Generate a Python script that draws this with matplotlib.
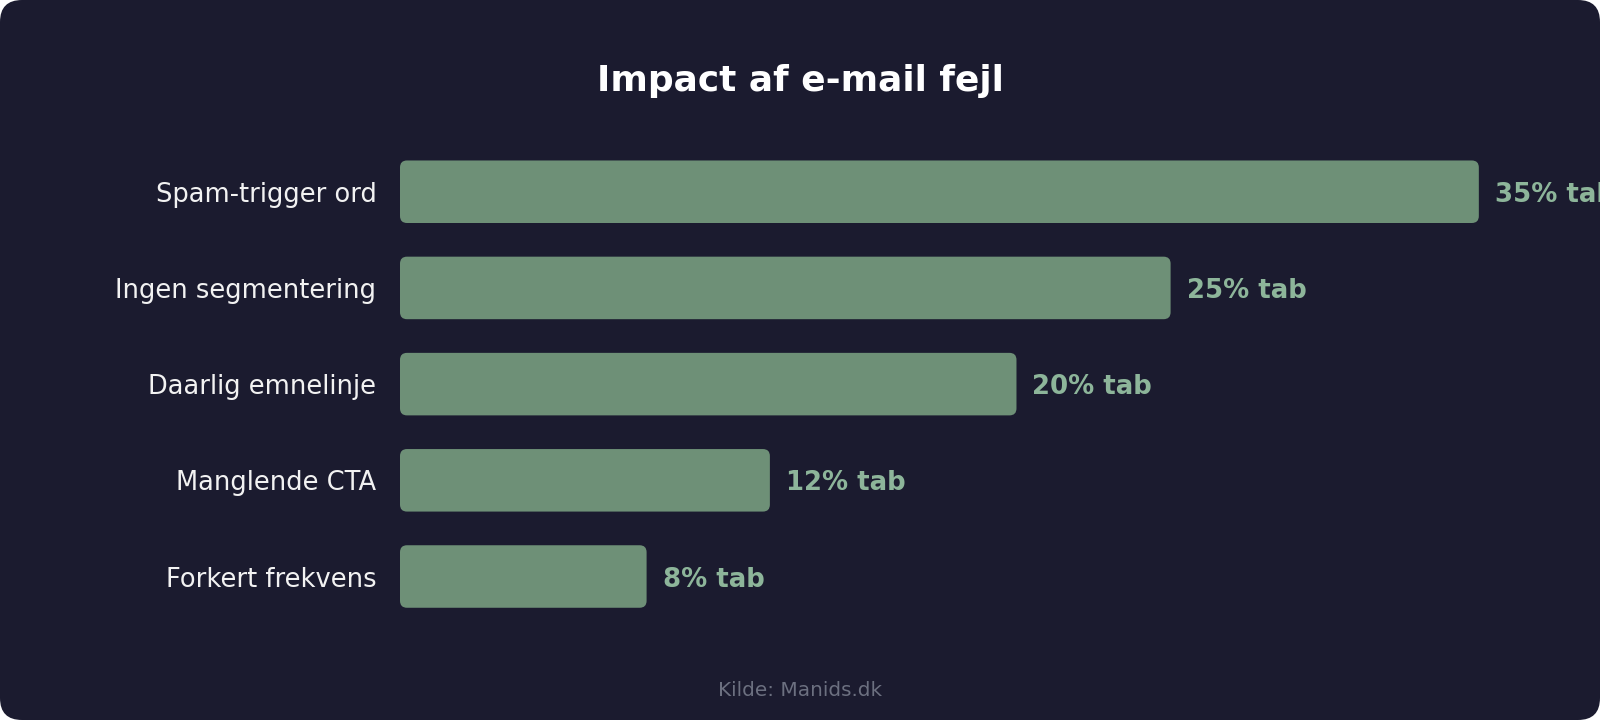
import matplotlib.pyplot as plt
from matplotlib.patches import FancyBboxPatch

# data
categories = ['Spam-trigger ord', 'Ingen segmentering', 'Daarlig emnelinje',
              'Manglende CTA', 'Forkert frekvens']
values = [35, 25, 20, 12, 8]
value_labels = ['35% tab', '25% tab', '20% tab', '12% tab', '8% tab']

bg = '#1b1b2f'
bar_color = '#6e9077'
label_color = '#8db59a'

fig = plt.figure(figsize=(16, 7.2), dpi=100)
fig.patch.set_facecolor('white')

# rounded background card
card = FancyBboxPatch((0, 0), 1, 1, boxstyle='round,pad=0,rounding_size=0.01375',
                      mutation_aspect=1600 / 720, transform=fig.transFigure,
                      facecolor=bg, edgecolor='none', zorder=-10)
fig.patches.append(card)

ax = fig.add_axes([0.25, 0.1325, 0.7706, 0.668])
ax.set_facecolor('none')

y = list(range(len(categories)))
bars = ax.barh(y, values, height=0.65, color=bar_color)

# swap plain bars for rounded ones
r = 0.227
aspect = 30.83 / 96.2
for b in bars:
    b.set_visible(False)
    p = FancyBboxPatch((b.get_x(), b.get_y()), b.get_width(), b.get_height(),
                       boxstyle=f'round,pad=0,rounding_size={r}',
                       mutation_aspect=aspect, facecolor=bar_color,
                       edgecolor='none')
    ax.add_patch(p)

for yi, v, lab in zip(y, values, value_labels):
    ax.annotate(lab, (v, yi), xytext=(11.5, -2.2), textcoords='offset points',
                ha='left', va='center', color=label_color, fontsize=18.7,
                fontweight='bold', annotation_clip=False)

ax.set_xlim(0, 40)
ax.set_ylim(4.5, -0.5)
ax.set_yticks(y)
ax.set_yticklabels(categories, fontsize=18.5, color='#f2f2f2')
ax.tick_params(axis='y', length=0, pad=17)
ax.set_xticks([])
for s in ax.spines.values():
    s.set_visible(False)

fig.text(0.5, 0.888, 'Impact af e-mail fejl', ha='center', va='center',
         color='white', fontsize=25.9, fontweight='bold')
fig.text(0.5, 0.0406, 'Kilde: Manids.dk', ha='center', va='center',
         color='#6c7080', fontsize=14.4)

fig.savefig('out.png', dpi=100, facecolor=fig.get_facecolor())
